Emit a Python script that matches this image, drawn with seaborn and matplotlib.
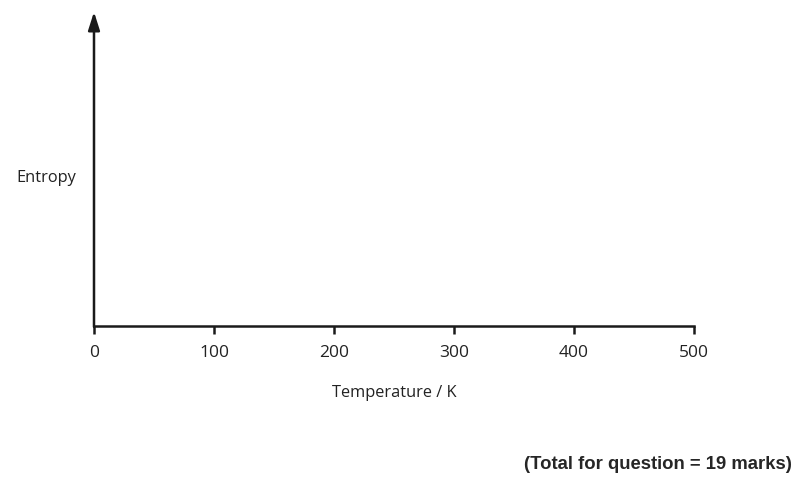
import matplotlib
matplotlib.use("Agg")
import matplotlib.pyplot as plt
import seaborn as sns

# axis setup (empty answer grid)
x_ticks = [0, 100, 200, 300, 400, 500]
x_label = "Temperature / K"
y_label = "Entropy"
footer = "(Total for question = 19 marks)"

sns.set_style("white")
plt.rcParams["font.family"] = ["Open Sans", "DejaVu Sans"]

fig = plt.figure(figsize=(8.02, 4.81), dpi=100)
ax = fig.add_axes([94 / 802, 154 / 481, 600 / 802, 305 / 481])

ax.set_xlim(x_ticks[0], x_ticks[-1])
ax.set_ylim(0, 1)
ax.set_xticks(x_ticks)
ax.set_xticklabels([str(t) for t in x_ticks], fontsize=12.5, color="#222222")
ax.set_yticks([])

for s in ["top", "right", "left"]:
    ax.spines[s].set_visible(False)
ax.spines["bottom"].set_linewidth(1.8)
ax.spines["bottom"].set_color("#1a1a1a")
ax.tick_params(axis="x", direction="out", length=6, width=1.8, color="#1a1a1a", pad=7, bottom=True)

# y axis with arrow head
ax.annotate("", xy=(0, 1.03), xytext=(0, -0.003), xycoords="axes fraction",
            arrowprops=dict(arrowstyle="-|>,head_length=1.1,head_width=0.35",
                            lw=1.8, color="#1a1a1a", shrinkA=0, shrinkB=0),
            annotation_clip=False)

ax.set_xlabel(x_label, fontsize=11.8, color="#222222", labelpad=17)
fig.text(46 / 802, 1 - 178 / 481, y_label, fontsize=11.8, color="#222222",
         ha="center", va="center")

fig.text(792 / 802, 1 - 465 / 481, footer, fontsize=13.3, fontweight="bold",
         family="Liberation Sans", ha="right", va="center")

fig.savefig("out.png", dpi=100)
